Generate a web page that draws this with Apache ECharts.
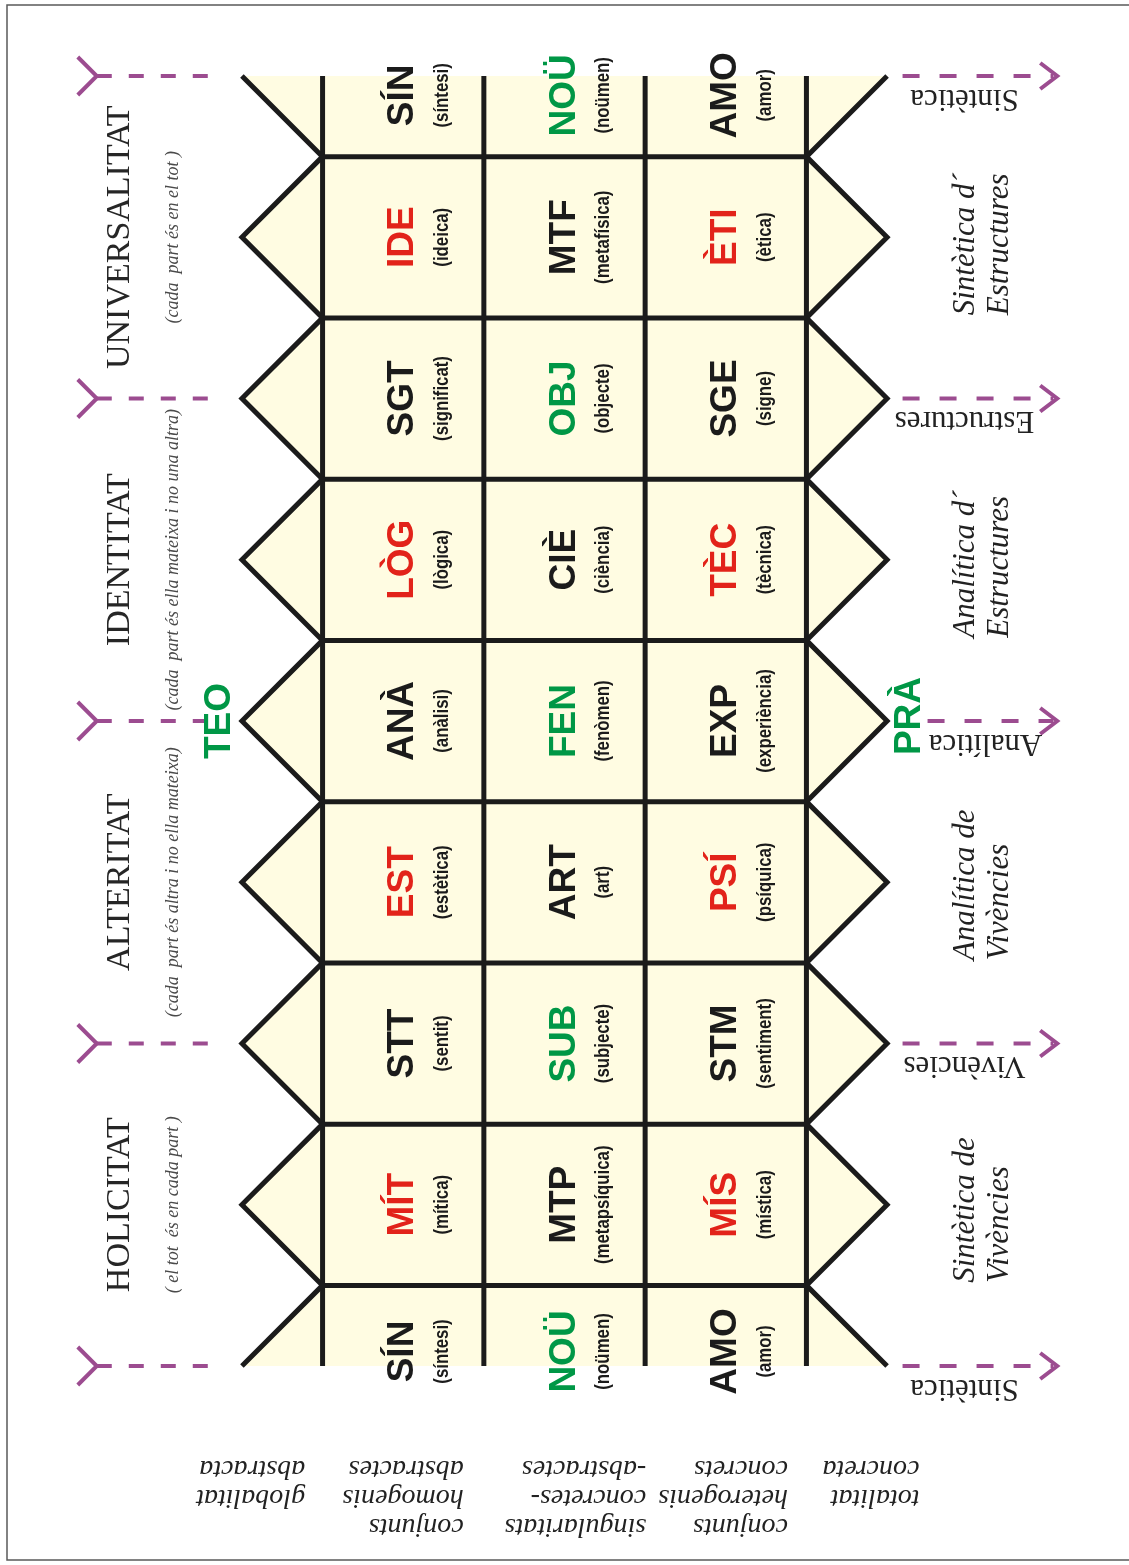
<!DOCTYPE html>
<html>
<head>
<meta charset="utf-8">
<script src="https://cdn.jsdelivr.net/npm/echarts@6/dist/echarts.min.js"></script>
<style>
html,body{margin:0;padding:0;background:#ffffff;}
#chart{width:1129px;height:1565px;}
</style>
</head>
<body>
<div id="chart"></div>
<script>
// ---------------- data ----------------
const STEPS = 8;   // intervals along the band
const COLS = 3;    // rows of cells across the band
const TIP = 0.5;   // depth of the zig-zag teeth

const levelTitles = ['UNIVERSALITAT', 'IDENTITAT', 'ALTERITAT', 'HOLICITAT'];
const levelNotes = [
  '(cada  part és en el tot )',
  '(cada  part és ella mateixa i no una altra)',
  '(cada  part és altra i no ella mateixa)',
  '( el tot  és en cada part )'
];

const homogCodes = ['SÍN', 'IDE', 'SGT', 'LÒG', 'ANÀ', 'EST', 'STT', 'MÍT', 'SÍN'];
const homogWords = ['síntesi', 'ideica', 'significat', 'lògica', 'anàlisi', 'estètica', 'sentit', 'mítica', 'síntesi'];
const homogTones = ['plain', 'accent', 'plain', 'accent', 'plain', 'accent', 'plain', 'accent', 'plain'];

const singCodes = ['NOÜ', 'MTF', 'OBJ', 'CIÈ', 'FEN', 'ART', 'SUB', 'MTP', 'NOÜ'];
const singWords = ['noümen', 'metafísica', 'objecte', 'ciència', 'fenòmen', 'art', 'subjecte', 'metapsíquica', 'noümen'];
const singTones = ['pole', 'plain', 'pole', 'plain', 'pole', 'plain', 'pole', 'plain', 'pole'];

const heterCodes = ['AMO', 'ÈTI', 'SGE', 'TÈC', 'EXP', 'PSÍ', 'STM', 'MÍS', 'AMO'];
const heterWords = ['amor', 'ètica', 'signe', 'tècnica', 'experiència', 'psíquica', 'sentiment', 'mística', 'amor'];
const heterTones = ['plain', 'accent', 'plain', 'accent', 'plain', 'accent', 'plain', 'accent', 'plain'];

const flowLabels = ['Sintètica', 'Estructures', 'Analítica', 'Vivències', 'Sintètica'];
const zoneLabels = ['Sintètica d´\nEstructures', 'Analítica d´\nEstructures', 'Analítica de\nVivències', 'Sintètica de\nVivències'];
const footLabels = [
  'globalitat\nabstracta',
  'conjunts\nhomogenis\nabstractes',
  'singularitats\nconcretes-\n-abstractes',
  'conjunts\nheterogenis\nconcrets',
  'totalitat\nconcreta'
];
const poleLabels = ['TEO', 'PRÀ'];

// ---------------- styles / layout ----------------
const CREAM = '#fffce2';
const INK = '#1b1b1b';
const PURPLE = '#9c4c90';
const TONE = { plain: '#1b1b1b', accent: '#e2231a', pole: '#009746' };
const LAYOUT = {
  titleX: -1.258, noteX: -0.924,
  tailStart: -1.40, tailEnd: -0.67,
  headStart: 3.596, headStartPole: 3.751, headTip: 4.555,
  flowX: 3.98, flowXPole: 4.11,
  zoneX: 4.091, zoneStartPx: 78,
  poleLeftX: -0.64, poleRightX: 3.64,
  footX: [-0.108, 0.875, 2.007, 2.885, 3.701], footY: 8.546,
  edgeTopShift: 0.12, edgeBottomShift: 0.09
};

const CODE_FONT = '700 37px "Liberation Sans", Arial, sans-serif';
const SUB_FONT = '700 21px "Liberation Sans", Arial, sans-serif';
const SUB_SQUEEZE = 0.8;   // condensed look of the small captions
const SERIF = '"Liberation Serif", "DejaVu Serif", serif';

// ---------------- cells ----------------
const cellRows = [
  { codes: homogCodes, words: homogWords, tones: homogTones },
  { codes: singCodes, words: singWords, tones: singTones },
  { codes: heterCodes, words: heterWords, tones: heterTones }
];
const cellData = [];
const cellInfo = [];
cellRows.forEach(function (row, col) {
  row.codes.forEach(function (code, k) {
    cellData.push([col, k]);
    cellInfo.push({ code: code, word: row.words[k], tone: row.tones[k] });
  });
});

// ---------------- renderers ----------------
function renderBand(params, api) {
  const left = [], right = [];
  for (let i = 0; i <= 2 * STEPS; i++) {
    const k = i / 2, tip = (i % 2 === 0);
    left.push(api.coord([tip ? -TIP : 0, k]));
    right.push(api.coord([tip ? COLS + TIP : COLS, k]));
  }
  const ls = { stroke: INK, lineWidth: 5, fill: null, lineJoin: 'miter', lineCap: 'butt' };
  const children = [
    { type: 'polygon', shape: { points: left.concat(right.slice().reverse()) }, style: { fill: CREAM } }
  ];
  for (let c = 0; c <= COLS; c++) {
    const a = api.coord([c, 0]), b = api.coord([c, STEPS]);
    children.push({ type: 'line', shape: { x1: a[0], y1: a[1], x2: b[0], y2: b[1] }, style: ls });
  }
  for (let j = 0; j < STEPS; j++) {
    const a = api.coord([0, j + 0.5]), b = api.coord([COLS, j + 0.5]);
    children.push({ type: 'line', shape: { x1: a[0] - 2, y1: a[1], x2: b[0] + 2, y2: b[1] }, style: ls });
  }
  children.push({ type: 'polyline', shape: { points: left }, style: ls });
  children.push({ type: 'polyline', shape: { points: right }, style: ls });
  return { type: 'group', children: children };
}

function renderCell(params, api) {
  const col = api.value(0), k = api.value(1);
  const info = cellInfo[params.dataIndex];
  let kk = k;
  if (k === 0) kk = k + LAYOUT.edgeTopShift;
  else if (k === STEPS) kk = k - LAYOUT.edgeBottomShift;
  const p = api.coord([col + 0.5, kk]);
  return {
    type: 'group',
    children: [
      { type: 'text', x: p[0], y: p[1], rotation: Math.PI / 2,
        style: { text: info.code, fill: TONE[info.tone], font: CODE_FONT, align: 'center', verticalAlign: 'middle' } },
      { type: 'text', x: p[0] + 39, y: p[1], rotation: Math.PI / 2, scaleX: SUB_SQUEEZE, scaleY: 1,
        style: { text: '(' + info.word + ')', fill: TONE.plain, font: SUB_FONT, align: 'center', verticalAlign: 'middle' } }
    ]
  };
}

function renderLevel(params, api) {
  const i = params.dataIndex, k = api.value(1);
  const t = api.coord([api.value(0), k]);
  const n = api.coord([LAYOUT.noteX, k]);
  return {
    type: 'group',
    children: [
      { type: 'text', x: t[0], y: t[1], rotation: Math.PI / 2,
        style: { text: levelTitles[i], fill: '#262626', font: '400 34px ' + SERIF, align: 'center', verticalAlign: 'middle' } },
      { type: 'text', x: n[0], y: n[1], rotation: Math.PI / 2,
        style: { text: levelNotes[i], fill: '#4a4a4a', font: 'italic 400 18px ' + SERIF, align: 'center', verticalAlign: 'middle' } }
    ]
  };
}

function renderFlow(params, api) {
  const i = params.dataIndex, k = api.value(1);
  const isPole = (k === STEPS / 2);
  const ds = { stroke: PURPLE, lineWidth: 4, fill: null, lineDash: [15, 17], lineCap: 'butt' };
  const hs = { stroke: PURPLE, lineWidth: 4, fill: null, lineJoin: 'miter' };
  const t0 = api.coord([LAYOUT.tailStart, k]);
  const t1 = api.coord([LAYOUT.tailEnd, k]);
  const h0 = api.coord([isPole ? LAYOUT.headStartPole : LAYOUT.headStart, k]);
  const h1 = api.coord([LAYOUT.headTip, k]);
  const lb = api.coord([isPole ? LAYOUT.flowXPole : LAYOUT.flowX, k]);
  return {
    type: 'group',
    children: [
      { type: 'polyline', shape: { points: [[t0[0] - 19, t0[1] - 19], [t0[0], t0[1]], [t0[0] - 19, t0[1] + 19]] }, style: hs },
      { type: 'line', shape: { x1: t0[0], y1: t0[1], x2: t1[0], y2: t1[1] }, style: ds },
      { type: 'line', shape: { x1: h0[0], y1: h0[1], x2: h1[0] - 4, y2: h1[1] }, style: Object.assign({}, ds, { lineDash: [17, 20] }) },
      { type: 'polyline', shape: { points: [[h1[0] - 17, h1[1] - 13], [h1[0], h1[1]], [h1[0] - 17, h1[1] + 13]] }, style: hs },
      { type: 'text', x: lb[0], y: lb[1] + 22, rotation: Math.PI,
        style: { text: flowLabels[i], fill: '#222222', font: '400 31px ' + SERIF, align: 'center', verticalAlign: 'middle' } }
    ]
  };
}

function renderZone(params, api) {
  const i = params.dataIndex;
  const p = api.coord([api.value(0), api.value(1)]);
  return {
    type: 'text', x: p[0], y: p[1] + LAYOUT.zoneStartPx, rotation: Math.PI / 2,
    style: { text: zoneLabels[i], fill: '#222222', font: 'italic 400 31px ' + SERIF, lineHeight: 34, align: 'left', verticalAlign: 'middle' }
  };
}

function renderFoot(params, api) {
  const i = params.dataIndex;
  const p = api.coord([api.value(0), api.value(1)]);
  return {
    type: 'text', x: p[0], y: p[1], rotation: Math.PI,
    style: { text: footLabels[i], fill: '#222222', font: 'italic 400 28px ' + SERIF, lineHeight: 29, align: 'left', verticalAlign: 'bottom' }
  };
}

function renderPole(params, api) {
  const i = params.dataIndex;
  const p = api.coord([api.value(0), api.value(1)]);
  return {
    type: 'text', x: p[0], y: p[1] - (i === 1 ? 5 : 0), rotation: Math.PI / 2,
    style: { text: poleLabels[i], fill: TONE.pole, font: '700 37px "Liberation Sans", Arial, sans-serif', align: 'center', verticalAlign: 'middle' }
  };
}

function customSeries(name, data, renderItem) {
  return {
    type: 'custom', name: name, coordinateSystem: 'cartesian2d',
    data: data, encode: { x: 0, y: 1 }, renderItem: renderItem,
    clip: false, silent: true, animation: false
  };
}

const chart = echarts.init(document.getElementById('chart'), null, { renderer: 'canvas', width: 1129, height: 1565 });
chart.setOption({
  backgroundColor: '#ffffff',
  animation: false,
  graphic: [{
    type: 'polyline', silent: true, z: -10,
    shape: { points: [[1140, 5], [7, 5], [7, 1560], [1140, 1560]] },
    style: { fill: null, stroke: '#5a5a5a', lineWidth: 1.5 }
  }],
  grid: { left: 0, top: 76, width: 1132, height: 1290, containLabel: false },
  xAxis: { type: 'value', min: -2, max: 5, show: false },
  yAxis: { type: 'value', min: 0, max: STEPS, inverse: true, show: false },
  series: [
    customSeries('band', [[0, 0]], renderBand),
    customSeries('cells', cellData, renderCell),
    customSeries('levels', levelTitles.map(function (_, i) { return [LAYOUT.titleX, 2 * i + 1]; }), renderLevel),
    customSeries('flows', flowLabels.map(function (_, i) { return [0, 2 * i]; }), renderFlow),
    customSeries('zones', zoneLabels.map(function (_, i) { return [LAYOUT.zoneX, 2 * i + 1]; }), renderZone),
    customSeries('foot', footLabels.map(function (_, i) { return [LAYOUT.footX[i], LAYOUT.footY]; }), renderFoot),
    customSeries('poles', [[LAYOUT.poleLeftX, STEPS / 2], [LAYOUT.poleRightX, STEPS / 2]], renderPole)
  ]
});
</script>
</body>
</html>
